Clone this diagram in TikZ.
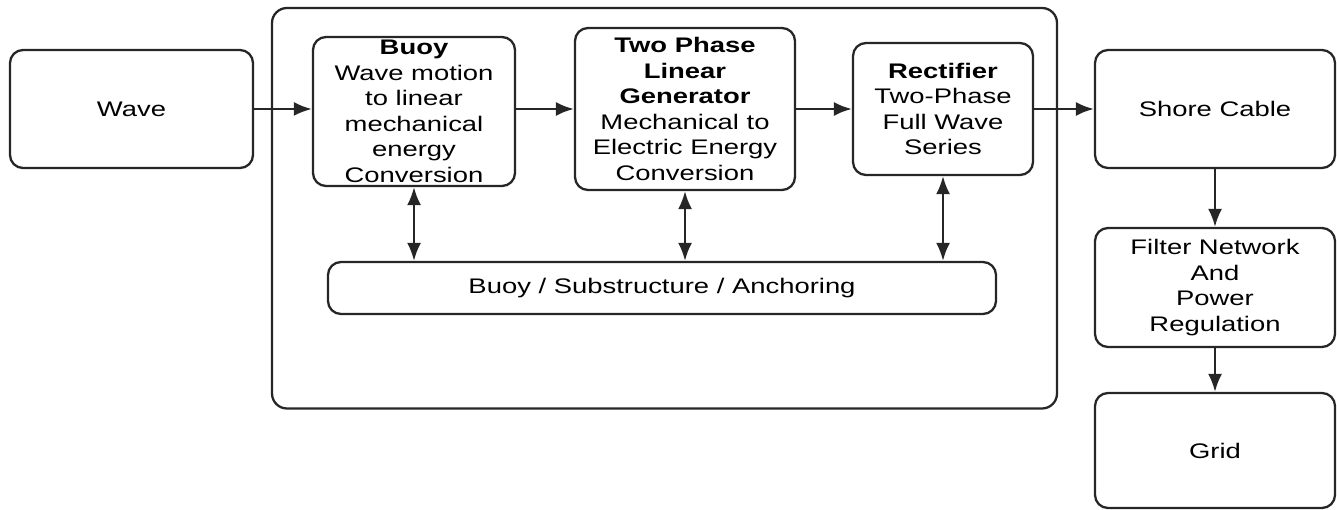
\documentclass[tikz,border=0pt]{standalone}
\usepackage{fontspec}
\setmainfont{Liberation Sans}[FakeStretch=1.3]
\usetikzlibrary{arrows.meta}

\begin{document}
\begin{tikzpicture}[font=\fontsize{12}{14.5}\selectfont]
\tikzstyle{blok}=[rectangle,draw=black!85,line width=1.3pt,rounded corners=0.26cm,align=center,inner sep=0pt]
\tikzstyle{pijl}=[draw=black!85,line width=1.3pt,-{Latex[length=3.6mm,width=2.8mm]}]
\tikzstyle{dpijl}=[draw=black!85,line width=1.3pt,{Latex[length=3.6mm,width=2.8mm]}-{Latex[length=3.6mm,width=2.8mm]}]
\useasboundingbox (0,0) rectangle (26.74,-10.2);
\draw[draw=black!85,line width=1.3pt,rounded corners=0.3cm] (5.44,-0.16) rectangle (21.14,-8.17);
\node [blok,minimum width=4.86cm,minimum height=2.36cm] (wave) at (2.63,-2.18) {Wave};
\node [blok,minimum width=4.04cm,minimum height=2.98cm] (buoy) at (8.28,-2.23) {\textbf{Buoy}\\Wave motion\\to linear\\mechanical\\energy\\Conversion};
\node [blok,minimum width=4.4cm,minimum height=3.24cm] (gen) at (13.7,-2.18) {\textbf{Two Phase}\\\textbf{Linear}\\\textbf{Generator}\\Mechanical to\\Electric Energy\\Conversion};
\node [blok,minimum width=3.6cm,minimum height=2.64cm] (rect) at (18.86,-2.18) {\textbf{Rectifier}\\Two-Phase\\Full Wave\\Series};
\node [blok,minimum width=4.8cm,minimum height=2.36cm] (shore) at (24.3,-2.18) {Shore Cable};
\node [blok,minimum width=4.8cm,minimum height=2.38cm] (filter) at (24.3,-5.75) {Filter Network\\And\\Power\\Regulation};
\node [blok,minimum width=4.8cm,minimum height=2.3cm] (grid) at (24.3,-9.01) {Grid};
\node [blok,minimum width=13.36cm,minimum height=1.04cm] (sub) at (13.24,-5.76) {Buoy / Substructure / Anchoring};
\draw [pijl] (wave.east) -- (wave.east -| buoy.west);
\draw [pijl] (buoy.east |- gen.west) -- (gen.west);
\draw [pijl] (gen.east) -- (rect.west);
\draw [pijl] (rect.east) -- (shore.west);
\draw [pijl] (shore.south) -- (filter.north);
\draw [pijl] (filter.south) -- (grid.north);
\draw [dpijl] (buoy.south) -- (buoy.south |- sub.north);
\draw [dpijl] (gen.south) -- (gen.south |- sub.north);
\draw [dpijl] (rect.south) -- (rect.south |- sub.north);
\end{tikzpicture}
\end{document}
